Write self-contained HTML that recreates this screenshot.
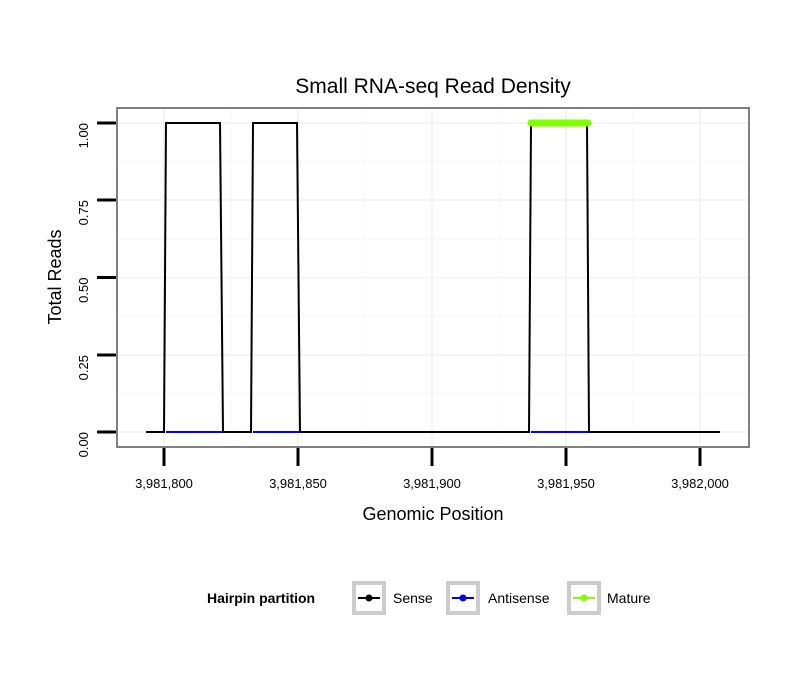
<!DOCTYPE html>
<html><head><meta charset="utf-8"><style>body{margin:0;background:#fff}</style></head><body>
<svg width="810" height="690" viewBox="0 0 810 690" xmlns="http://www.w3.org/2000/svg" font-family="Liberation Sans, sans-serif">
<rect width="810" height="690" fill="#fff"/>
<g stroke="#f7f7f7" stroke-width="1">
<line x1="231" y1="108" x2="231" y2="447"/><line x1="365" y1="108" x2="365" y2="447"/><line x1="499" y1="108" x2="499" y2="447"/><line x1="633" y1="108" x2="633" y2="447"/>
<line x1="117" y1="161.6" x2="749" y2="161.6"/><line x1="117" y1="239" x2="749" y2="239"/><line x1="117" y1="316" x2="749" y2="316"/><line x1="117" y1="393.4" x2="749" y2="393.4"/>
</g>
<g stroke="#f4f4f4" stroke-width="2">
<line x1="164" y1="108" x2="164" y2="447"/><line x1="298" y1="108" x2="298" y2="447"/><line x1="432" y1="108" x2="432" y2="447"/><line x1="566" y1="108" x2="566" y2="447"/><line x1="700" y1="108" x2="700" y2="447"/>
<line x1="117" y1="123" x2="749" y2="123"/><line x1="117" y1="200" x2="749" y2="200"/><line x1="117" y1="277.5" x2="749" y2="277.5"/><line x1="117" y1="355" x2="749" y2="355"/><line x1="117" y1="432" x2="749" y2="432"/>
</g>
<polyline fill="none" stroke="#000" stroke-width="2" points="146,432 164,432 166,123 220,123 223,432 251,432 253,123 297,123 300,432 529,432 531,123 587,123 589,432 720,432"/>
<g stroke="#0000ff" stroke-width="2"><line x1="166" y1="432" x2="222" y2="432"/><line x1="253" y1="432" x2="300" y2="432"/><line x1="531" y1="432" x2="589" y2="432"/></g>
<line x1="531" y1="123" x2="588" y2="123" stroke="#7fff00" stroke-width="7" stroke-linecap="round"/>
<rect x="117" y="108" width="632" height="339" fill="none" stroke="#808080" stroke-width="2"/>
<g stroke="#000" stroke-width="3">
<line x1="97" y1="123" x2="116" y2="123"/><line x1="97" y1="200" x2="116" y2="200"/><line x1="97" y1="277.5" x2="116" y2="277.5"/><line x1="97" y1="355" x2="116" y2="355"/><line x1="97" y1="432" x2="116" y2="432"/>
<line x1="164" y1="448" x2="164" y2="466"/><line x1="298" y1="448" x2="298" y2="466"/><line x1="432" y1="448" x2="432" y2="466"/><line x1="566" y1="448" x2="566" y2="466"/><line x1="700" y1="448" x2="700" y2="466"/>
</g>
<g font-size="13" text-anchor="end" fill="#000">
<text transform="translate(88,123) rotate(-90)">1.00</text>
<text transform="translate(88,200) rotate(-90)">0.75</text>
<text transform="translate(88,277.5) rotate(-90)">0.50</text>
<text transform="translate(88,355) rotate(-90)">0.25</text>
<text transform="translate(88,432) rotate(-90)">0.00</text>
</g>
<g font-size="13" text-anchor="middle" fill="#000">
<text x="164" y="488">3,981,800</text><text x="298" y="488">3,981,850</text><text x="432" y="488">3,981,900</text><text x="566" y="488">3,981,950</text><text x="700" y="488">3,982,000</text>
</g>
<text x="433" y="520" font-size="18" text-anchor="middle">Genomic Position</text>
<text transform="translate(61,277) rotate(-90)" font-size="18" text-anchor="middle">Total Reads</text>
<text x="433" y="93" font-size="21" text-anchor="middle">Small RNA-seq Read Density</text>
<text x="207" y="603" font-size="14" font-weight="bold">Hairpin partition</text>
<g fill="none" stroke="#ccc" stroke-width="4">
<rect x="354" y="583" width="30" height="30"/><rect x="448" y="583" width="30" height="30"/><rect x="569" y="583" width="30" height="30"/>
</g>
<line x1="358" y1="598" x2="380" y2="598" stroke="#000" stroke-width="2"/><circle cx="369" cy="598" r="3.5" fill="#000"/>
<line x1="452" y1="598" x2="474" y2="598" stroke="#0000ff" stroke-width="2"/><circle cx="463" cy="598" r="3.5" fill="#0000ff"/>
<line x1="573" y1="598" x2="595" y2="598" stroke="#7fff00" stroke-width="2"/><circle cx="584" cy="598" r="3.5" fill="#7fff00"/>
<g font-size="14"><text x="393" y="603">Sense</text><text x="488" y="603">Antisense</text><text x="607" y="603">Mature</text></g>
</svg>
</body></html>
